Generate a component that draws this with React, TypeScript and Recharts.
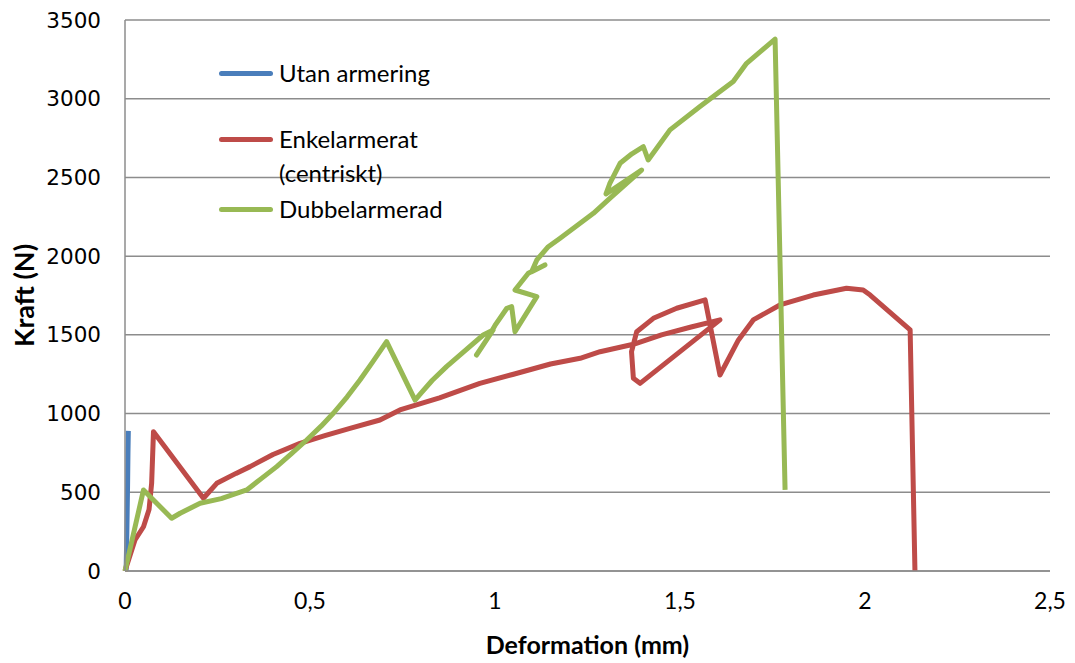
import React from "react";
import {
  LineChart,
  Line,
  XAxis,
  YAxis,
  CartesianGrid,
  Label
} from "recharts";

const utanArmering = [
  { x: 0.003, y: 0 },
  { x: 0.005, y: 250 },
  { x: 0.007, y: 550 },
  { x: 0.008, y: 750 },
  { x: 0.009, y: 890 }
];

const enkelarmerat = [
  { x: 0, y: 0 },
  { x: 0.027, y: 197 },
  { x: 0.05, y: 281 },
  { x: 0.065, y: 390 },
  { x: 0.072, y: 557 },
  { x: 0.077, y: 885 },
  { x: 0.212, y: 462 },
  { x: 0.248, y: 557 },
  { x: 0.3, y: 620 },
  { x: 0.338, y: 663 },
  { x: 0.4, y: 740 },
  { x: 0.473, y: 811 },
  { x: 0.54, y: 860 },
  { x: 0.608, y: 906 },
  { x: 0.689, y: 959 },
  { x: 0.743, y: 1023 },
  { x: 0.85, y: 1100 },
  { x: 0.959, y: 1192 },
  { x: 1.05, y: 1250 },
  { x: 1.15, y: 1315 },
  { x: 1.23, y: 1351 },
  { x: 1.284, y: 1393 },
  { x: 1.374, y: 1440 },
  { x: 1.45, y: 1500 },
  { x: 1.53, y: 1550 },
  { x: 1.608, y: 1595 },
  { x: 1.392, y: 1192 },
  { x: 1.374, y: 1224 },
  { x: 1.369, y: 1393 },
  { x: 1.383, y: 1520 },
  { x: 1.428, y: 1605 },
  { x: 1.491, y: 1669 },
  { x: 1.568, y: 1722 },
  { x: 1.608, y: 1245 },
  { x: 1.658, y: 1468 },
  { x: 1.698, y: 1595 },
  { x: 1.77, y: 1690 },
  { x: 1.86, y: 1753 },
  { x: 1.95, y: 1796 },
  { x: 1.995, y: 1785 },
  { x: 2.014, y: 1753 },
  { x: 2.122, y: 1531 },
  { x: 2.135, y: 0 }
];

const dubbelarmerad = [
  { x: 0, y: 0 },
  { x: 0.05, y: 515 },
  { x: 0.126, y: 335 },
  { x: 0.149, y: 367 },
  { x: 0.203, y: 430 },
  { x: 0.26, y: 460 },
  { x: 0.329, y: 515 },
  { x: 0.37, y: 590 },
  { x: 0.41, y: 663 },
  { x: 0.45, y: 745 },
  { x: 0.491, y: 832 },
  { x: 0.53, y: 920 },
  { x: 0.563, y: 1002 },
  { x: 0.6, y: 1105 },
  { x: 0.635, y: 1213 },
  { x: 0.67, y: 1330 },
  { x: 0.707, y: 1457 },
  { x: 0.784, y: 1086 },
  { x: 0.8, y: 1130 },
  { x: 0.83, y: 1210 },
  { x: 0.869, y: 1298 },
  { x: 0.905, y: 1372 },
  { x: 0.968, y: 1499 },
  { x: 0.995, y: 1531 },
  { x: 0.95, y: 1372 },
  { x: 0.975, y: 1460 },
  { x: 1.0, y: 1560 },
  { x: 1.032, y: 1669 },
  { x: 1.045, y: 1679 },
  { x: 1.054, y: 1520 },
  { x: 1.113, y: 1743 },
  { x: 1.054, y: 1785 },
  { x: 1.09, y: 1891 },
  { x: 1.135, y: 1944 },
  { x: 1.099, y: 1901 },
  { x: 1.113, y: 1976 },
  { x: 1.144, y: 2060 },
  { x: 1.176, y: 2114 },
  { x: 1.266, y: 2272 },
  { x: 1.311, y: 2368 },
  { x: 1.396, y: 2547 },
  { x: 1.3, y: 2395 },
  { x: 1.31, y: 2460 },
  { x: 1.338, y: 2590 },
  { x: 1.37, y: 2650 },
  { x: 1.401, y: 2695 },
  { x: 1.414, y: 2611 },
  { x: 1.473, y: 2802 },
  { x: 1.554, y: 2950 },
  { x: 1.644, y: 3109 },
  { x: 1.68, y: 3225 },
  { x: 1.757, y: 3378 },
  { x: 1.784, y: 515 }
];

const xTicks = [0, 0.5, 1, 1.5, 2, 2.5];
const yTicks = [0, 500, 1000, 1500, 2000, 2500, 3000, 3500];

const seriesNames = ["Utan armering", "Enkelarmerat\n(centriskt)", "Dubbelarmerad"];
const seriesColors = ["#4A7EBB", "#BE4B48", "#98B954"];

const calibriLike = "Lato, 'Open Sans', sans-serif";
const grid = "#8C8C8C";

// legend drawn like the Excel one: line sample + label, the middle label wraps
function ExcelLegend() {
  const rows = [
    { top: 0, name: seriesNames[0], color: seriesColors[0] },
    { top: 66, name: seriesNames[1], color: seriesColors[1] },
    { top: 136, name: seriesNames[2], color: seriesColors[2] }
  ];
  return (
    <div style={{ position: "absolute", left: 219, top: 56, width: 280, height: 180, fontFamily: calibriLike, fontSize: 24, color: "#000" }}>
      {rows.map((r) => (
        <div key={r.name} style={{ position: "absolute", left: 0, top: r.top, display: "flex" }}>
          <div style={{ width: 54, height: 5, borderRadius: 3, background: r.color, marginTop: 15, marginRight: 6 }} />
          <div style={{ whiteSpace: "pre", lineHeight: "34px" }}>{r.name}</div>
        </div>
      ))}
    </div>
  );
}

export default function App() {
  return (
    <div style={{ position: "absolute", left: 0, top: 0, width: 1075, height: 663, background: "#fff" }}>
      <LineChart width={1075} height={663} margin={{ top: 20, right: 25, bottom: 0, left: 0 }}>
        <CartesianGrid vertical={false} stroke={grid} strokeWidth={1.5} />
        <XAxis
          type="number"
          dataKey="x"
          domain={[0, 2.5]}
          ticks={xTicks}
          tickFormatter={(v) => String(v).replace(".", ",")}
          stroke={grid}
          strokeWidth={1.5}
          tickLine={false}
          tickSize={0}
          tickMargin={22}
          height={92}
          tick={{ fill: "#000", fontSize: 23, fontFamily: calibriLike }}
        >
          <Label
            value="Deformation (mm)"
            position="insideBottom"
            offset={9}
            style={{ fontFamily: calibriLike, fontWeight: 700, fontSize: 25, fill: "#000" }}
          />
        </XAxis>
        <YAxis
          type="number"
          dataKey="y"
          domain={[0, 3500]}
          ticks={yTicks}
          stroke={grid}
          strokeWidth={1.5}
          tickLine={false}
          tickSize={0}
          tickMargin={24}
          width={125}
          tick={{ fill: "#000", fontSize: 21.5, fontFamily: "'DejaVu Sans', Verdana, sans-serif" }}
        >
          <Label
            value="Kraft (N)"
            angle={-90}
            position="insideLeft"
            offset={24}
            style={{ textAnchor: "middle", fontFamily: calibriLike, fontWeight: 700, fontSize: 27, fill: "#000" }}
          />
        </YAxis>
        <Line
          data={utanArmering}
          dataKey="y"
          name={seriesNames[0]}
          stroke={seriesColors[0]}
          strokeWidth={5}
          dot={false}
          isAnimationActive={false}
        />
        <Line
          data={enkelarmerat}
          dataKey="y"
          name={seriesNames[1]}
          stroke={seriesColors[1]}
          strokeWidth={5}
          strokeLinejoin="round"
          dot={false}
          isAnimationActive={false}
        />
        <Line
          data={dubbelarmerad}
          dataKey="y"
          name={seriesNames[2]}
          stroke={seriesColors[2]}
          strokeWidth={5}
          strokeLinejoin="round"
          dot={false}
          isAnimationActive={false}
        />
      </LineChart>
      <ExcelLegend />
    </div>
  );
}
